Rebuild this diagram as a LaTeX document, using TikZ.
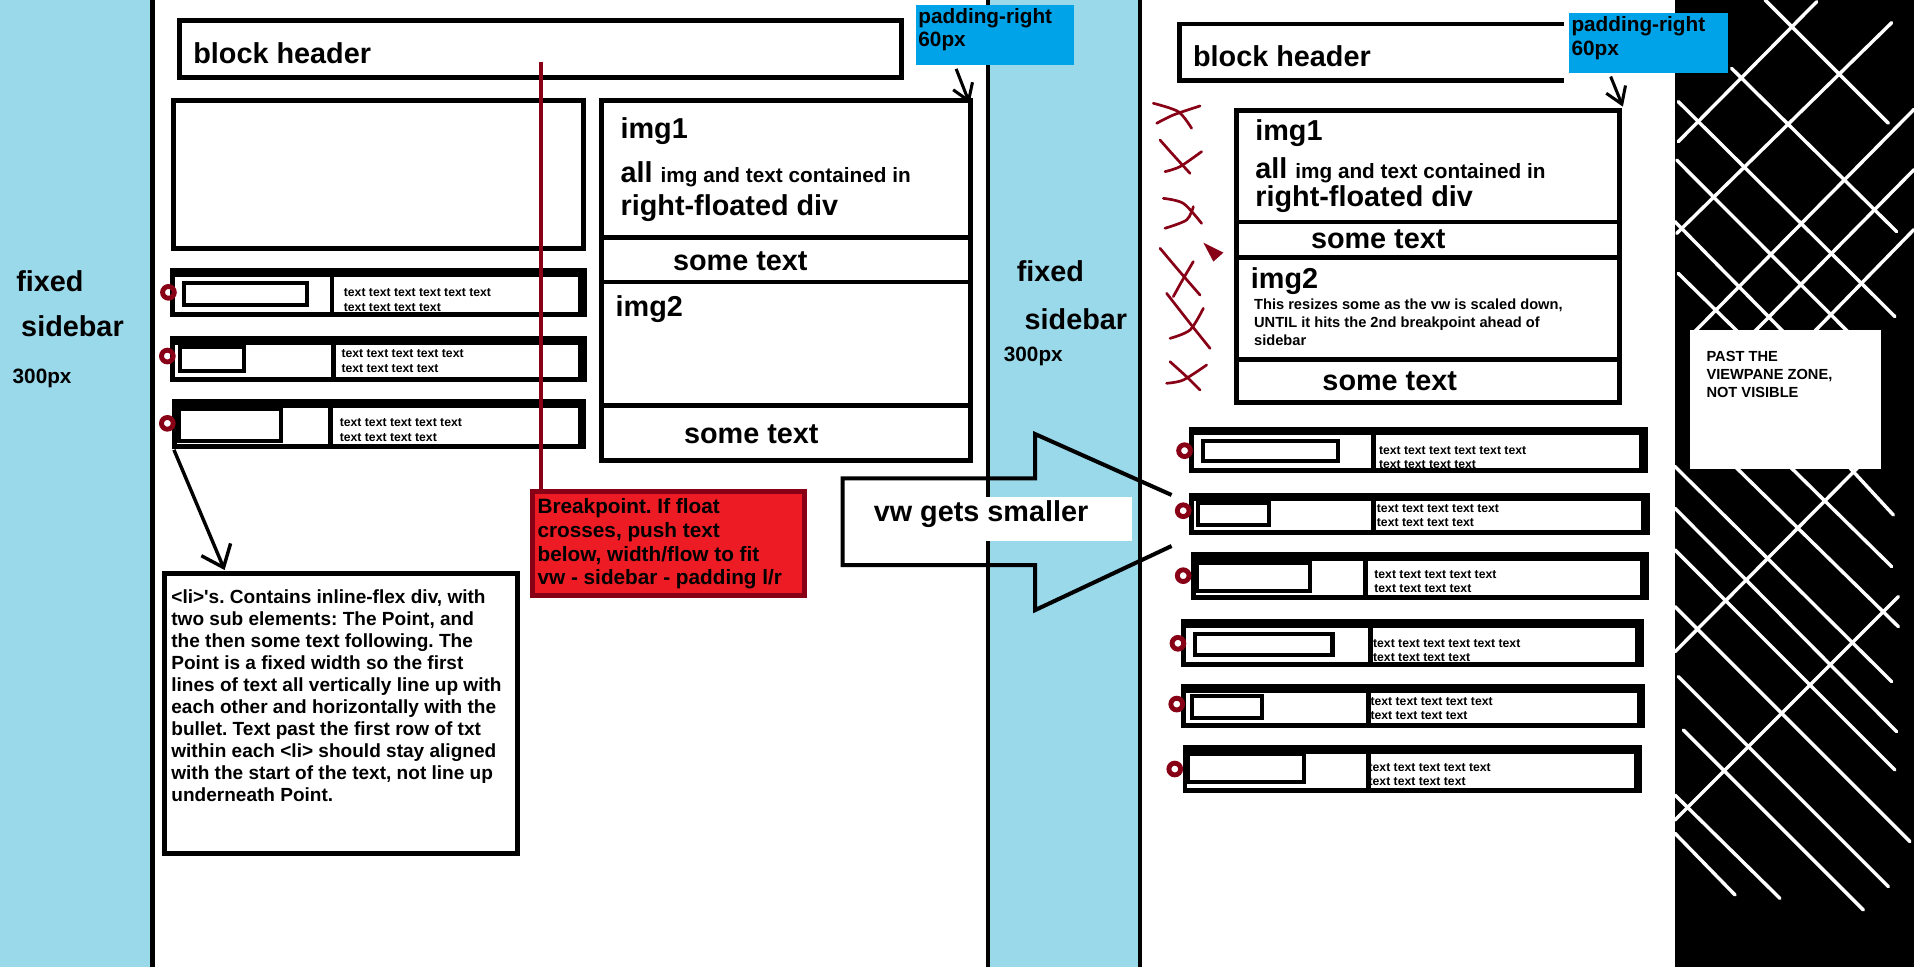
\documentclass[tikz,border=0pt]{standalone}
\usepackage{fontspec}
\setmainfont{Liberation Sans}[Ligatures=TeXOff]
\usetikzlibrary{arrows.meta,calc}
\frenchspacing

\definecolor{sideblue}{HTML}{99D9EA}
\definecolor{padblue}{HTML}{00A2E8}
\definecolor{darkred}{HTML}{880015}
\definecolor{bpred}{HTML}{ED1C24}

\def\liframe(#1,#2)(#3,#4)[#5]{%
  \draw[wire] (#1,#2) rectangle (#3,#4);
  \draw[wire] (#1,#2+3) -| (#3-3,#4);
  \draw[wire] (#5,#2) -- (#5,#4);}

\tikzset{
  wire/.style={draw=black, line width=2pt},
  pointbox/.style={draw=black, line width=1.65pt},
  bullet/.style={draw=darkred, line width=2pt},
  txtbig/.style={anchor=base west, inner sep=0pt, font=\fontsize{11.8}{14}\selectfont\bfseries},
  txtmed/.style={anchor=base west, inner sep=0pt, font=\fontsize{8.5}{10}\selectfont\bfseries},
  txtdesc/.style={anchor=base west, inner sep=0pt, font=\fontsize{7.8}{9}\selectfont\bfseries},
  txtsmall/.style={anchor=base west, inner sep=0pt, font=\fontsize{6}{7}\selectfont\bfseries},
  txttiny/.style={anchor=base west, inner sep=0pt, font=\fontsize{5}{6}\selectfont\bfseries},
  hatch/.style={white, line width=1.4pt, line cap=round},
  xmark/.style={darkred, line width=1.1pt, line cap=round},
  bpline/.style={darkred, line width=1.75pt},
  parrow/.style={line width=1.25pt, -{Straight Barb[length=6.5pt,width=8.5pt]}},
  descarrow/.style={line width=1.4pt, -{Straight Barb[length=8pt,width=13pt]}},
  bigarrow/.style={line width=1.65pt, line join=miter},
}

\begin{document}
\begin{tikzpicture}[x=0.5pt,y=-0.5pt]
			%%%%% START %%%%%
			\useasboundingbox (0,0) rectangle (1568,792);
			\fill[white] (0,0) rectangle (1568,792);
			\fill[sideblue] (0,0) rectangle (123,792);
			\fill[sideblue] (811,0) rectangle (932.5,792);
			\fill[black] (1372,0) rectangle (1568,792);
			
			% hatched zone
			\begin{scope}
			\clip (1372,0) rectangle (1568,792);
			\foreach \xa/\ya/\xb/\yb in {1372.2/682.7/1421.4/733.2, 1372.2/651.3/1458.2/736,
			  1379/598/1526.5/745.5, 1374.9/554.3/1547/726.4, 1372.2/497/1564.7/689.5,
			  1372.2/450.5/1552.4/630.8, 1372.2/416.4/1553.8/599.4, 1372/382/1549.7/558.4,
			  1410/371/1555.2/513.4, 1460/376/1549.7/464.2, 1505/372/1551.1/421.9,
			  1374.9/224/1430/278, 1372.2/181.6/1470/281, 1373.6/131.1/1525/283,
			  1374.9/83.3/1552.4/259.4, 1418.6/56/1553.8/189.8, 1446/0/1547/101,
			  1488.3/1.4/1374.9/116, 1549.7/18.6/1373.6/191.2, 1568/89.6/1388/272,
			  1568/139/1437/272, 1568/188/1486/272, 1530/375/1372.2/533.9,
			  1555.2/488.8/1372.2/671.8}
			  \draw[hatch] (\xa,\ya) -- (\xb,\yb);
			\end{scope}
			
			\draw[line width=2pt] (125,0) -- (125,792);
			\draw[line width=1.65pt] (809.4,0) -- (809.4,792);
			\draw[line width=1.65pt] (934.2,0) -- (934.2,792);
			
			% left sidebar
			\node[txtbig] (fixedL) at (13,239) {fixed};
			\node[txtbig] (sidebarL) at (17,275.8) {sidebar};
			\node[txtmed] (pxL) at (10,314) {300px};
			
			% left page
			\draw[wire] (147.2,17) rectangle (738.3,63.5);
			\node[txtbig] (hdrL) at (158,51.9) {block header};
			
			\node[fill=padblue, minimum width=65pt, minimum height=24.5pt, inner sep=0pt] (padL) at (815,28.5) {};
			\node[txtmed] (padLa) at (752,19) {padding-right};
			\node[txtmed] (padLb) at (752,38.4) {60px};
			\coordinate (imgLcorner) at (794.3,84.7);
			\draw[parrow] ($(padL.south west)+(33.7,3)$) -- (imgLcorner);
			
			\draw[wire] (142,82.5) rectangle (478,203.3);
			
			\draw[wire] (493,82.5) rectangle (794.8,377.6);
			\draw[wire] (493,194.8) -- (794.8,194.8);
			\draw[wire] (493,231) -- (794.8,231);
			\draw[wire] (493,332.3) -- (794.8,332.3);
			\node[txtbig] (img1L) at (508,113.3) {img1};
			\node[txtbig] (allL) at (508,149.6) {all {\fontsize{8.5}{10}\selectfont img and text contained in}};
			\node[txtbig] (rfdL) at (508,176.7) {right-floated div};
			\node[txtbig] (stL1) at (551,221.2) {some text};
			\node[txtbig] (img2L) at (504,259.4) {img2};
			\node[txtbig] (stL2) at (560,363.2) {some text};
			
			% left list items
			\node[txttiny] (tL1a) at (281.3,243) {text text text text text text};
			\node[txttiny] (tL1b) at (281.3,255.3) {text text text text};
			\liframe(141.3,221.8)(478.7,257.4)[272]
			\draw[pointbox] (150.5,231.6) rectangle (251.6,249.6);
			\draw[bullet] (138,239.5) circle (4.8);
			
			\node[txttiny] (tL2a) at (279.4,293) {text text text text text};
			\node[txttiny] (tL2b) at (279.4,305.3) {text text text text};
			\liframe(141.3,277.3)(478.7,310.7)[273]
			\draw[pointbox] (147.6,284.2) rectangle (200,304.3);
			\draw[bullet] (137.1,291.7) circle (4.8);
			
			\node[txttiny] (tL3a) at (278,349.6) {text text text text text};
			\node[txttiny] (tL3b) at (278,361.8) {text text text text};
			\liframe(142.7,329.2)(478.1,366.1)[271]
			\draw[pointbox] (146.4,335.3) rectangle (230.5,361.1);
			\draw[bullet] (137.1,346.8) circle (4.8);
			
			% breakpoint
			\coordinate (bpmark) at (443.3,50.5);
			\node[draw=darkred, fill=bpred, line width=2pt, minimum width=111.5pt, minimum height=42.5pt, inner sep=0pt] (bp) at (547.5,445.5) {};
			\draw[bpline] (bpmark) -- (bpmark |- bp.north);
			\foreach \ln [count=\i from 0] in {Breakpoint. If float, {crosses, push text}, {below, width/flow to fit}, vw - sidebar - padding l/r}
			  \node[txtmed] (bp\i) at (440,421+19.4*\i) {\ln};
			
			% li description
			\node[draw, line width=2pt, minimum width=144.5pt, minimum height=114.5pt, inner sep=0pt] (desc) at (279.5,584.5) {};
			\foreach \ln [count=\i from 0] in {%
			  {<li>'s. Contains inline-flex div, with},
			  {two sub elements: The Point, and},
			  {the then some text following. The},
			  Point is a fixed width so the first,
			  lines of text all vertically line up with,
			  each other and horizontally with the,
			  bullet. Text past the first row of txt,
			  within each <li> should stay aligned,
			  {with the start of the text, not line up},
			  underneath Point.}
			  \node[txtdesc] (desc\i) at (140,494.2+18.05*\i) {\ln};
			\coordinate (li3corner) at (142.5,368.5);
			\draw[descarrow] (li3corner) -- ($(desc.north west)+(51,-1)$);
			
			% vw arrow
			\draw[bigarrow] (959.8,405.5) -- (848,355.6) -- (848,391.9) -- (690.3,391.9) -- (690.3,462.9) -- (848,462.9) -- (848,499.8) -- (959.8,447.3);
			\node[fill=white, minimum width=113.5pt, minimum height=18pt, inner sep=0pt] (vwbox) at (813.5,425) {};
			\node[txtbig] (vw) at (715.4,427.4) {vw gets smaller};
			
			% middle sidebar
			\node[txtbig] (fixedM) at (832.6,230.7) {fixed};
			\node[txtbig] (sidebarM) at (839,270.3) {sidebar};
			\node[txtmed] (pxM) at (822,296.3) {300px};
			
			% right page
			\draw[wire] (1281,19.7) -- (966,19.7) -- (966,66.3) -- (1281,66.3);
			\node[txtbig] (hdrR) at (977,54.6) {block header};
			
			\node[fill=padblue, minimum width=65.25pt, minimum height=24.25pt, inner sep=0pt] (padR) at (1350.75,35.25) {};
			\node[txtmed] (padRa) at (1287,26) {padding-right};
			\node[txtmed] (padRb) at (1287,45.3) {60px};
			\coordinate (imgRcorner) at (1329.5,87.4);
			\draw[parrow] ($(padR.south west)+(34.4,2.8)$) -- (imgRcorner);
			
			\draw[wire] (1013.1,90.7) rectangle (1327,329.8);
			\draw[wire] (1013.1,181.9) -- (1327,181.9);
			\draw[wire] (1013.1,211.3) -- (1327,211.3);
			\draw[wire] (1013.1,294.2) -- (1327,294.2);
			\node[txtbig] (img1R) at (1028,115.5) {img1};
			\node[txtbig] (allR) at (1028,146.1) {all {\fontsize{8.5}{10}\selectfont img and text contained in}};
			\node[txtbig] (rfdR) at (1028,169.3) {right-floated div};
			\node[txtbig] (stR1) at (1073.6,203.4) {some text};
			\node[txtbig] (img2R) at (1024.4,236.2) {img2};
			\foreach \ln [count=\i from 0] in {{This resizes some as the vw is scaled down,}, UNTIL it hits the 2nd breakpoint ahead of, sidebar}
			  \node[txtsmall] (rs\i) at (1027,253.4+14.9*\i) {\ln};
			\node[txtbig] (stR2) at (1083,319.5) {some text};
			
			% crossed out
			\foreach \xa/\ya/\xb/\yb/\xc/\yc in {944.8/84.6/965.3/91.5/976.2/105.1, 983.1/86.8/961.2/94.2/947.6/101,
			  950.3/114.7/961.2/127/974.9/142, 984.4/124.2/966.7/136.5/954.4/140.6,
			  953/162.5/969.4/166.6/984.4/183, 977.6/169.3/972.1/180.2/954.4/187,
			  950.3/203.4/965.3/221.2/983.1/241.7, 977.6/214.3/968/230.7/961.2/243,
			  955.7/240.3/974.9/264.9/991.3/285.4, 985.8/252.6/974.9/270.3/958.5/277.2,
			  958.5/296.3/972.1/308.6/983.1/319.5, 988.5/299/969.4/311.3/955.7/314}
			  \draw[xmark] plot[smooth] coordinates {(\xa,\ya) (\xb,\yb) (\xc,\yc)};
			\fill[darkred] (985.8,198.8) -- (1002.2,207) -- (994,214.3) -- cycle;
			
			% right list items
			\node[txttiny] (tR1a) at (1129.3,372.2) {text text text text text text};
			\node[txttiny] (tR1b) at (1129.3,383.9) {text text text text};
			\liframe(976,351.6)(1348,385.8)[1125.5]
			\draw[pointbox] (985.2,361.6) rectangle (1095.9,378);
			\draw[bullet] (970.4,369.2) circle (4.8);
			
			\node[txttiny] (tR2a) at (1127.6,420) {text text text text text};
			\node[txttiny] (tR2b) at (1127.6,431.5) {text text text text};
			\liframe(976,405.6)(1349.7,436.3)[1125.5]
			\draw[pointbox] (981.5,412.1) rectangle (1039.2,430.4);
			\draw[bullet] (969.3,418.4) circle (4.8);
			
			\node[txttiny] (tR3a) at (1125.5,473.8) {text text text text text};
			\node[txttiny] (tR3b) at (1125.5,485.5) {text text text text};
			\liframe(977.6,454.5)(1348.6,489.6)[1118.7]
			\draw[pointbox] (980.4,460.9) rectangle (1073.1,484);
			\draw[bullet] (969.3,471.6) circle (4.8);
			
			\node[txttiny] (tR4a) at (1124.5,530.3) {text text text text text text};
			\node[txttiny] (tR4b) at (1124.5,542) {text text text text};
			\liframe(969.2,509.4)(1344.4,544.2)[1122.4]
			\draw[pointbox] (978.8,519.1) rectangle (1091.6,536.9);
			\draw[bullet] (965,527) circle (4.8);
			
			\node[txttiny] (tR5a) at (1122.4,578.1) {text text text text text};
			\node[txttiny] (tR5b) at (1122.4,589.8) {text text text text};
			\liframe(969.2,562.6)(1346,594.7)[1121.3]
			\draw[pointbox] (976.2,570.2) rectangle (1033.9,588.3);
			\draw[bullet] (964,576.8) circle (4.8);
			
			\node[txttiny] (tR6a) at (1120.8,632.2) {text text text text text};
			\node[txttiny] (tR6b) at (1120.8,643.9) {text text text text};
			\liframe(970.8,612.3)(1343.4,647.4)[1121.3]
			\draw[pointbox] (973,618) rectangle (1068.3,640.7);
			\draw[bullet] (962.4,630) circle (4.8);
			
			% past the viewpane
			\node[fill=white, minimum width=78.4pt, minimum height=57.25pt, inner sep=0pt] (past) at (1462.9,327.25) {};
			\foreach \ln [count=\i from 0] in {PAST THE, {VIEWPANE ZONE,}, NOT VISIBLE}
			  \node[txtsmall] (past\i) at (1397.6,296.3+14.6*\i) {\ln};
			%%%%% END %%%%%
\end{tikzpicture}
\end{document}
